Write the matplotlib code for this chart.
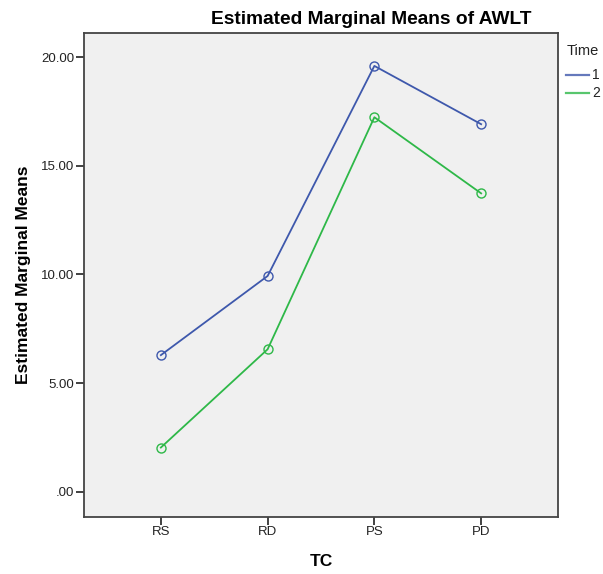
import matplotlib
matplotlib.use("Agg")
import matplotlib.pyplot as plt
from matplotlib.lines import Line2D

plt.rcParams['font.family'] = ['Liberation Sans', 'DejaVu Sans']

categories = ["RS", "RD", "PS", "PD"]
time1 = [6.29, 9.93, 19.59, 16.91]
time2 = [2.04, 6.56, 17.23, 13.73]
series_labels = ["1", "2"]
legend_title = "Time"
yticks = [0, 5, 10, 15, 20]
ytick_labels = [".00", "5.00", "10.00", "15.00", "20.00"]

c1 = "#3E58AC"
c2 = "#2EB848"
colors = [c1, c2]

W, H = 603, 574
fig = plt.figure(figsize=(W / 100, H / 100), dpi=100)
ax = fig.add_axes([84 / W, 1 - 516.7 / H, (558 - 84) / W, (516.7 - 33.3) / H])
ax.set_facecolor("#F0F0F0")

x = list(range(len(categories)))
for vals, c in zip([time1, time2], colors):
    ax.plot(x, vals, color=c, lw=1.3, marker="o", ms=6.5, mfc="none", mec=c, mew=1.0)

ax.set_xlim(-0.72, 3.72)
ax.set_ylim(-1.14, 21.09)
ax.set_xticks(x)
ax.set_xticklabels(categories)
ax.set_yticks(yticks)
ax.set_yticklabels(ytick_labels)
ax.tick_params(axis="both", direction="out", length=5.8, width=1.3, color="#333333",
               labelsize=9.5, labelcolor="#222222", pad=1)
for s in ax.spines.values():
    s.set_color("#444444")
    s.set_linewidth(1.3)

ax.set_xlabel("TC", fontsize=12.5, fontweight="bold")
ax.xaxis.set_label_coords(0.5, (516.7 - 561.5) / (516.7 - 33.3))
ax.xaxis.label.set_va("center")
ax.set_ylabel("Estimated Marginal Means", fontsize=12.5, fontweight="bold")
ax.yaxis.set_label_coords((24 - 84) / (558 - 84), 0.5)
ax.yaxis.label.set_va("center")

fig.text(371.5 / W, 1 - 20 / H, "Estimated Marginal Means of AWLT", ha="center", va="center",
         fontsize=13.8, fontweight="bold")

# legend drawn in figure coordinates
fig.text(567 / W, 1 - 51 / H, legend_title, ha="left", va="center", fontsize=10.5, color="#222222")
for i, (lab, c) in enumerate(zip(series_labels, colors)):
    yy = 1 - (75 + 18 * i) / H
    fig.add_artist(Line2D([566 / W, 589 / W], [yy, yy], color=c, lw=1.6, alpha=0.8,
                          transform=fig.transFigure))
    fig.text(592 / W, yy, lab, ha="left", va="center", fontsize=10, color="#222222")

fig.savefig("out.png", dpi=100, facecolor="white")
